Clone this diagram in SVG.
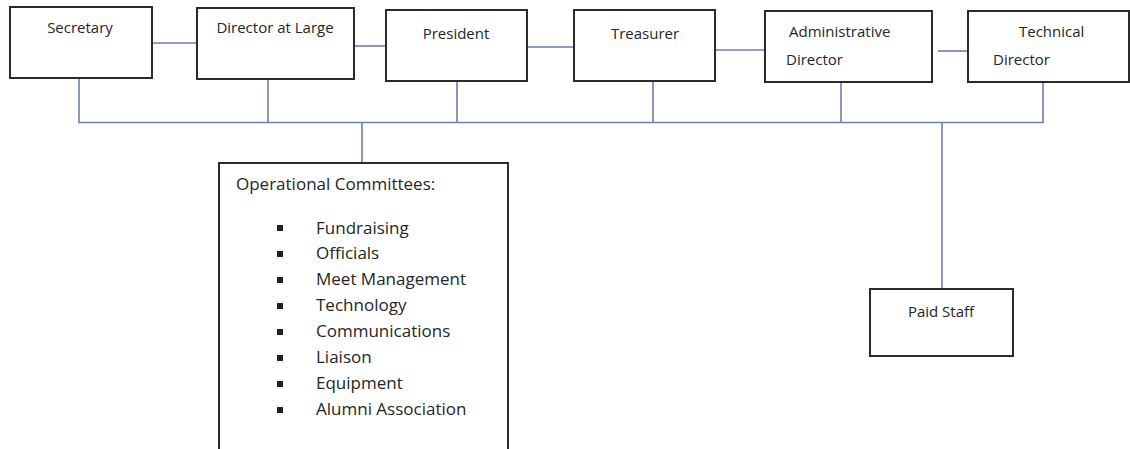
<svg xmlns="http://www.w3.org/2000/svg" width="1130" height="449" viewBox="0 0 1130 449">
<style>
.box{fill:#fff;stroke:#2b2b2b;stroke-width:2}
.t{font-family:"Open Sans","Liberation Sans",sans-serif;font-size:15px;fill:#262626}
.l{font-family:"Open Sans","Liberation Sans",sans-serif;font-size:17px;fill:#262626}
.c{fill:none;stroke:#6e7db2;stroke-width:1.6}
.b{fill:#222}
</style>
<rect width="1130" height="449" fill="#fff"/>
<g id="connectors">
<line class="c" x1="152" y1="43" x2="197" y2="43"/>
<line class="c" x1="354" y1="46" x2="386" y2="46"/>
<line class="c" x1="527" y1="47" x2="574" y2="47"/>
<line class="c" x1="715" y1="50" x2="765" y2="50"/>
<line class="c" x1="938" y1="51" x2="968" y2="51"/>
<line class="c" x1="79" y1="78" x2="79" y2="122.5"/>
<line class="c" x1="268" y1="79" x2="268" y2="122.5"/>
<line class="c" x1="457" y1="81" x2="457" y2="122.5"/>
<line class="c" x1="653" y1="81" x2="653" y2="122.5"/>
<line class="c" x1="841" y1="82" x2="841" y2="122.5"/>
<line class="c" x1="1043" y1="82" x2="1043" y2="122.5"/>
<line class="c" x1="78.2" y1="122.5" x2="1043.8" y2="122.5"/>
<line class="c" x1="362" y1="122.5" x2="362" y2="163"/>
<line class="c" x1="942" y1="122.5" x2="942" y2="289"/>
</g>
<g id="secretary">
<rect class="box" x="10" y="7" width="142" height="71"/>
<text class="t" x="80" y="33" text-anchor="middle">Secretary</text>
</g>
<g id="director-at-large">
<rect class="box" x="197" y="8" width="157" height="71"/>
<text class="t" x="275" y="33" text-anchor="middle">Director at Large</text>
</g>
<g id="president">
<rect class="box" x="386" y="10" width="141" height="71"/>
<text class="t" x="456" y="39" text-anchor="middle">President</text>
</g>
<g id="treasurer">
<rect class="box" x="574" y="10" width="141" height="71"/>
<text class="t" x="645" y="39" text-anchor="middle">Treasurer</text>
</g>
<g id="administrative-director">
<rect class="box" x="765" y="11" width="167" height="71"/>
<text class="t" x="789" y="37">Administrative</text>
<text class="t" x="786" y="65">Director</text>
</g>
<g id="technical-director">
<rect class="box" x="968" y="11" width="161" height="71"/>
<text class="t" x="1019" y="37">Technical</text>
<text class="t" x="993" y="65">Director</text>
</g>
<g id="operational-committees">
<rect class="box" x="219" y="163" width="289" height="300"/>
<text class="l" x="236" y="190">Operational Committees:</text>
<rect class="b" x="277" y="225" width="6" height="6"/>
<rect class="b" x="277" y="251" width="6" height="6"/>
<rect class="b" x="277" y="277" width="6" height="6"/>
<rect class="b" x="277" y="303" width="6" height="6"/>
<rect class="b" x="277" y="329" width="6" height="6"/>
<rect class="b" x="277" y="355" width="6" height="6"/>
<rect class="b" x="277" y="381" width="6" height="6"/>
<rect class="b" x="277" y="407" width="6" height="6"/>
<text class="l" x="316" y="234">Fundraising</text>
<text class="l" x="316" y="259">Officials</text>
<text class="l" x="316" y="285">Meet Management</text>
<text class="l" x="316" y="311">Technology</text>
<text class="l" x="316" y="337">Communications</text>
<text class="l" x="316" y="363">Liaison</text>
<text class="l" x="316" y="389">Equipment</text>
<text class="l" x="316" y="415">Alumni Association</text>
</g>
<g id="paid-staff">
<rect class="box" x="870" y="289" width="143" height="67"/>
<text class="t" x="941" y="317" text-anchor="middle">Paid Staff</text>
</g>
</svg>
